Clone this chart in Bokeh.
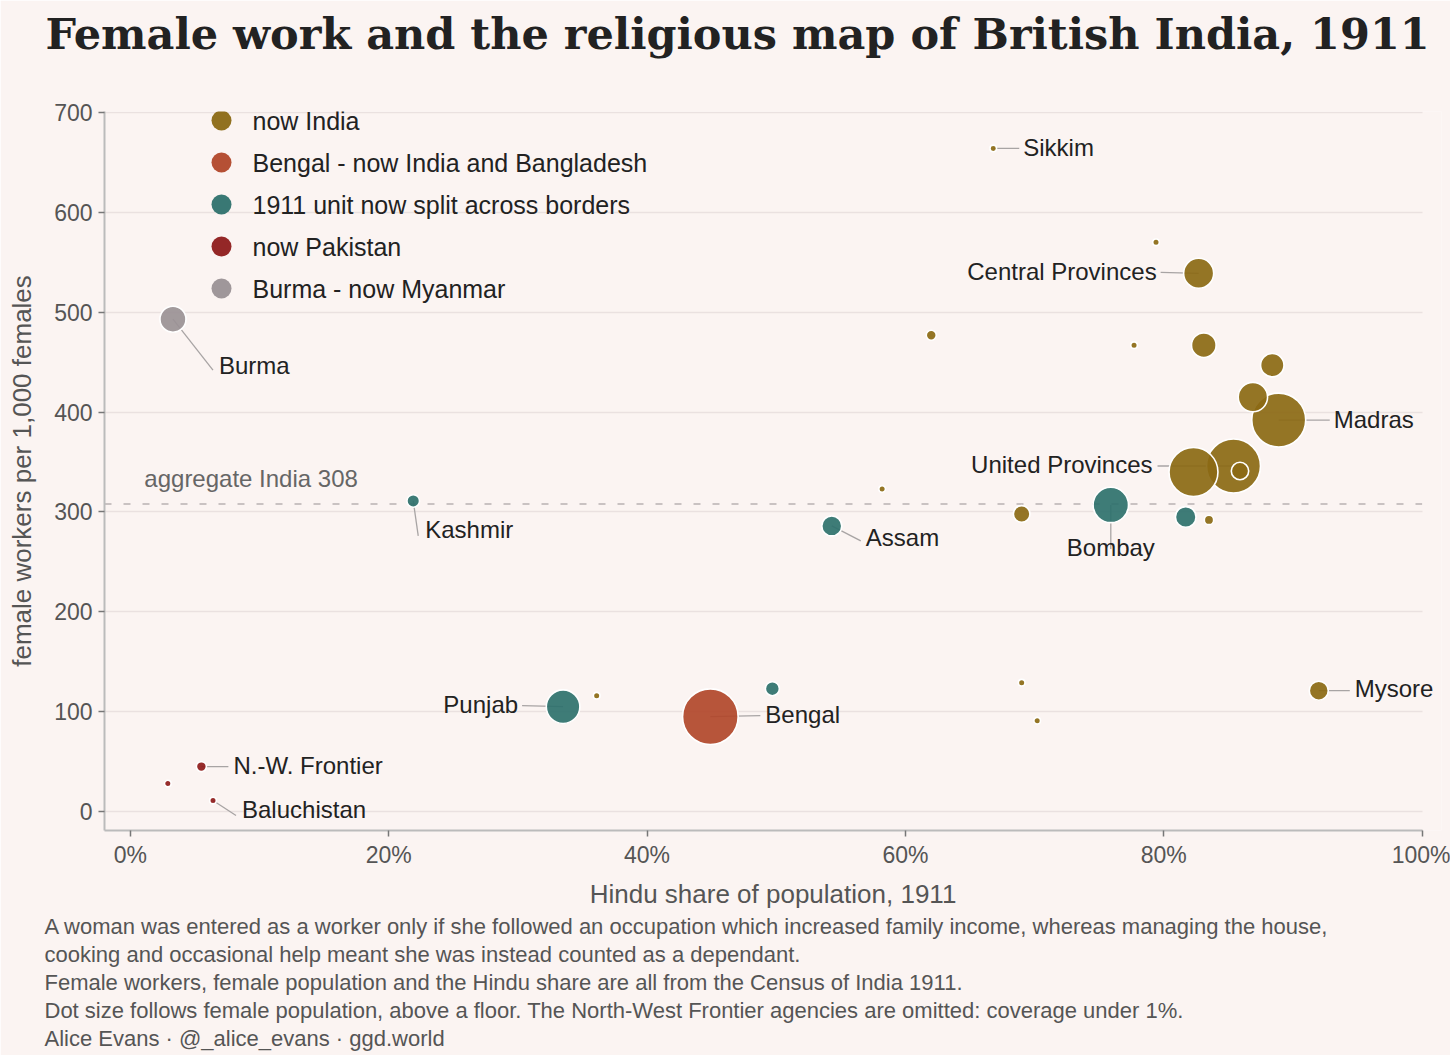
import numpy as np
from bokeh.plotting import figure
from bokeh.models import (ColumnDataSource, Label, Title, FixedTicker)
from bokeh.core.properties import value
from bokeh.embed import file_html
from bokeh.resources import INLINE

# ---------------- data ----------------
units = ["Sikkim", "", "Central Provinces", "", "", "", "", "", "Madras", "",
         "United Provinces", "", "Bombay", "", "", "", "", "Assam", "Kashmir",
         "Burma", "Punjab", "", "Bengal", "", "", "", "Mysore",
         "N.-W. Frontier", "", "Baluchistan"]
hindu_share = [66.8, 79.4, 82.7, 62.0, 77.7, 83.1, 88.4, 86.9, 88.9, 82.3,
               85.4, 85.9, 75.9, 81.7, 83.5, 69.0, 58.2, 54.3, 21.9,
               3.3, 33.5, 36.1, 44.9, 49.7, 69.0, 70.2, 92.0,
               5.5, 2.9, 6.4]
female_workers = [664, 570, 539, 477, 467, 467, 447, 415, 392, 340,
                  346, 341, 307, 295, 292, 298, 323, 286, 311,
                  493, 105, 116, 95, 123, 129, 91, 121,
                  45, 28, 11]
female_pop_m = [0.04, 0.2, 6.5, 0.72, 0.2, 4.35, 3.93, 6.2, 20.9, 17.2,
                20.9, 2.17, 9.0, 3.05, 0.63, 1.98, 0.2, 2.87, 1.14,
                4.86, 8.1, 0.2, 22.2, 1.41, 0.2, 0.2, 2.59,
                0.72, 0.2, 0.15]
group = ["india", "india", "india", "india", "india", "india", "india", "india",
         "india", "india", "india", "india", "split", "split", "india", "india",
         "india", "split", "split", "burma", "split", "india", "bengal", "split",
         "india", "india", "india", "pakistan", "pakistan", "pakistan"]

groups = ["india", "bengal", "split", "pakistan", "burma"]
group_labels = ["now India", "Bengal - now India and Bangladesh",
                "1911 unit now split across borders", "now Pakistan",
                "Burma - now Myanmar"]
aggregate_india = 308

x_ticks = [0, 20, 40, 60, 80, 100]
x_tick_labels = ["0%", "20%", "40%", "60%", "80%", "100%"]
y_ticks = [0, 100, 200, 300, 400, 500, 600, 700]

# ---------------- styling / layout ----------------
colors = {"india": "#8B6914", "bengal": "#B1472A", "split": "#2E716D",
          "pakistan": "#8E1B1B", "burma": "#9A9195"}
BG = "#FBF4F2"
SANS = "Liberation Sans"

# label placement: name -> (line end dx, dy, text dx, dy, align) in screen px
label_layout = {
    "Sikkim": (26, 0, 30, -1, "left"),
    "Central Provinces": (-38, -1, -42, -2, "right"),
    "Madras": (51, 0, 55, -1, "left"),
    "United Provinces": (-76, 0, -81, -2, "right"),
    "Bombay": (0, 44, 0, 43, "center"),
    "Assam": (29, 15, 34, 12, "left"),
    "Kashmir": (5, 35, 12, 29, "left"),
    "Burma": (40, 51, 46, 46, "left"),
    "Punjab": (-41, -1, -45, -2, "right"),
    "Bengal": (50, -1, 55, -2, "left"),
    "Mysore": (31, 0, 36, -2, "left"),
    "N.-W. Frontier": (27, 0, 32, -1, "left"),
    "Baluchistan": (23, 15, 29, 9, "left"),
}

W, H = 1450, 1055
FL, FR, FT, FB = 104, 1441, 111, 830          # frame edges in page px
X0, X1, XAX = -2.0, 101.5, 100.0               # x range; axis ends at 100%
Y0, Y1 = -19.0, 701.0
px_x = (FR - FL) / (X1 - X0)
px_y = (FB - FT) / (Y1 - Y0)


def to_data(sx, sy):
    return X0 + (sx - FL) / px_x, Y1 - (sy - FT) / px_y


p = figure(width=W, height=H, x_range=(X0, X1), y_range=(Y0, Y1),
           output_backend="svg", toolbar_location=None,
           min_border_left=FL, min_border_right=W - FR, min_border_top=FT,
           min_border_bottom=H - FB, background_fill_color=BG,
           border_fill_color=BG, outline_line_color=None)

# grid
p.xgrid.grid_line_color = None
p.ygrid.grid_line_color = "#EAE1E0"
p.ygrid.grid_line_width = 1.5
p.ygrid.ticker = FixedTicker(ticks=y_ticks)
try:
    p.ygrid.cross_bounds = (X0, XAX)
except Exception:
    pass

# axes
p.xaxis.ticker = FixedTicker(ticks=x_ticks)
p.xaxis.major_label_overrides = {t: l for t, l in zip(x_ticks, x_tick_labels)}
p.xaxis.bounds = (X0, XAX)
p.yaxis.ticker = FixedTicker(ticks=y_ticks)
p.xaxis.axis_label = "Hindu share of population, 1911"
p.yaxis.axis_label = "female workers per 1,000 females"
for ax in (p.xaxis, p.yaxis):
    ax.axis_line_color = "#BBBBBB"
    ax.axis_line_width = 2
    ax.major_tick_line_color = "#777777"
    ax.major_tick_line_width = 1.5
    ax.major_tick_out = 6
    ax.major_tick_in = 0
    ax.minor_tick_line_color = None
    ax.major_label_text_font = SANS
    ax.major_label_text_font_size = "23px"
    ax.major_label_text_color = "#555555"
    ax.axis_label_text_font = SANS
    ax.axis_label_text_font_size = "26px"
    ax.axis_label_text_font_style = "normal"
    ax.axis_label_text_color = "#555555"
p.xaxis.major_label_standoff = 5
p.xaxis.axis_label_standoff = 8
p.yaxis.major_label_standoff = 6
p.yaxis.axis_label_standoff = 14

# aggregate line
p.segment(x0=[X0], y0=[aggregate_india], x1=[XAX], y1=[aggregate_india],
          line_color="#C9C2C2", line_width=2, line_dash="7 12")
p.add_layout(Label(x=0, y=aggregate_india, x_offset=14, y_offset=25,
                   text=f"aggregate India {aggregate_india}",
                   text_font=SANS, text_font_size="24px",
                   text_color="#666666", text_baseline="middle"))

# points, largest first so small ones sit on top
r_px = [max(3.3, 5.9 * np.sqrt(v)) for v in female_pop_m]
order = np.argsort(r_px)[::-1]
src = ColumnDataSource(dict(
    x=[hindu_share[i] for i in order],
    y=[female_workers[i] for i in order],
    size=[2 * r_px[i] for i in order],
    color=[colors[group[i]] for i in order],
))

lx0, ly0, lx1, ly1 = [], [], [], []
tx, ty, txo, tyo, tt, ta = [], [], [], [], [], []
for i, name in enumerate(units):
    if name in label_layout:
        ldx, ldy, tdx, tdy, al = label_layout[name]
        lx0.append(hindu_share[i]); ly0.append(female_workers[i])
        lx1.append(hindu_share[i] + ldx / px_x)
        ly1.append(female_workers[i] - ldy / px_y)
        tx.append(hindu_share[i]); ty.append(female_workers[i])
        txo.append(tdx); tyo.append(tdy); tt.append(name); ta.append(al)

p.segment(x0=lx0, y0=ly0, x1=lx1, y1=ly1, line_color="#A8A4A4", line_width=1.3)

p.scatter(x="x", y="y", size="size", fill_color="color", fill_alpha=0.92,
          line_color="white", line_width=1.6, source=src)

for al in ("left", "right", "center"):
    idx = [k for k in range(len(tt)) if ta[k] == al]
    if not idx:
        continue
    p.text(x=[tx[k] for k in idx], y=[ty[k] for k in idx],
           text=[tt[k] for k in idx],
           x_offset=[txo[k] for k in idx], y_offset=[tyo[k] for k in idx],
           text_align=al, text_baseline="middle",
           text_font=value(SANS), text_font_size="24px", text_color="#222222")

# legend (drawn in the frame at fixed screen positions)
leg_dot = [to_data(221, 120 + 42 * k) for k in range(len(groups))]
leg_txt = [to_data(252, 120 + 42 * k) for k in range(len(groups))]
p.scatter(x=[d[0] for d in leg_dot], y=[d[1] for d in leg_dot], size=20,
          fill_color=[colors[g] for g in groups], fill_alpha=0.95, line_color=None)
p.text(x=[d[0] for d in leg_txt], y=[d[1] for d in leg_txt], text=group_labels,
       text_baseline="middle", text_align="left", text_font=value(SANS),
       text_font_size="25px", text_color="#222222")

# title: a blank spacer next to the frame, then the title above it
p.add_layout(Title(text=" ", standoff=40, text_font=SANS,
                   text_font_size="10px"), "above")
p.add_layout(Title(text="Female work and the religious map of British India, 1911",
                   align="left", offset=45 - FL, standoff=0,
                   text_font="DejaVu Serif", text_font_style="bold",
                   text_font_size="43px", text_color="#222222"), "above")

# footnotes
notes = [
    "A woman was entered as a worker only if she followed an occupation which increased family income, whereas managing the house,",
    "cooking and occasional help meant she was instead counted as a dependant.",
    "Female workers, female population and the Hindu share are all from the Census of India 1911.",
    "Dot size follows female population, above a floor. The North-West Frontier agencies are omitted: coverage under 1%.",
    "Alice Evans \u00b7 @_alice_evans \u00b7 ggd.world",
]
for line in notes:
    p.add_layout(Title(text=line, align="left", offset=44 - FL, standoff=0.5,
                       text_font=SANS, text_font_size="22px",
                       text_font_style="normal", text_color="#555555"), "below")

open("out.html", "w").write(file_html(p, INLINE))
